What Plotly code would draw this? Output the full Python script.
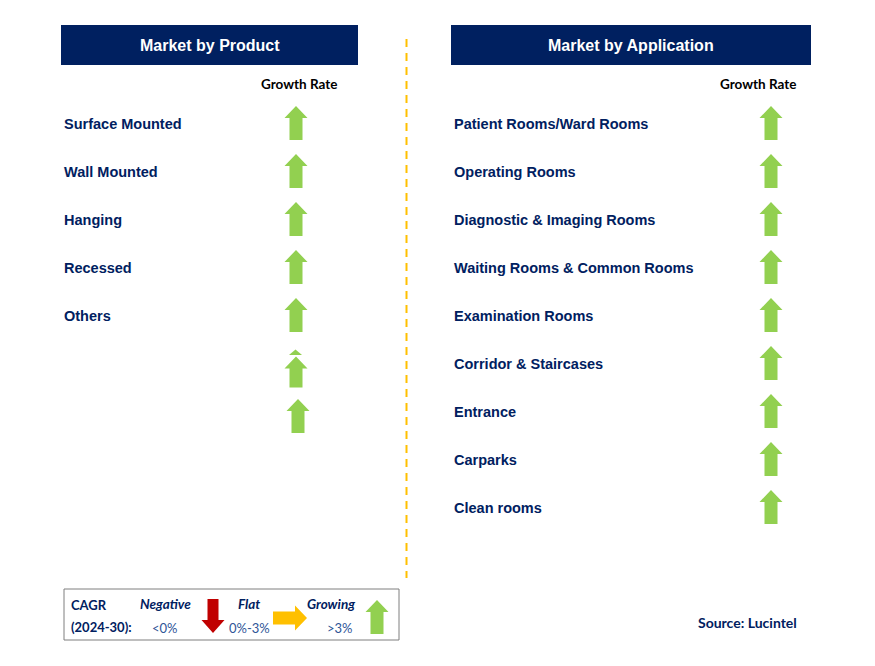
import plotly.graph_objects as go

# ---------------- data ----------------
product_title = "Market by Product"
application_title = "Market by Application"
growth_header = "Growth Rate"

products = ["Surface Mounted", "Wall Mounted", "Hanging", "Recessed", "Others"]
# growth indicators shown in the product column (two extra arrows appear without labels)
product_growth = ["Growing", "Growing", "Growing", "Growing", "Growing", "Growing", "Growing"]

applications = ["Patient Rooms/Ward Rooms", "Operating Rooms", "Diagnostic & Imaging Rooms",
                "Waiting Rooms & Common Rooms", "Examination Rooms", "Corridor & Staircases",
                "Entrance", "Carparks", "Clean rooms"]
application_growth = ["Growing", "Growing", "Growing", "Growing", "Growing",
                      "Growing", "Growing", "Growing", "Growing"]

legend_labels = ["Negative", "Flat", "Growing"]
legend_ranges = ["<0%", "0%-3%", ">3%"]
cagr_label = ["CAGR", "(2024-30):"]
source_text = "Source: Lucintel"

# ---------------- style ----------------
NAVY = "#002060"
GREEN = "#92D050"
RED = "#C00000"
YELLOW = "#FFC000"
W, H = 875, 666
OFF = 8  # page body margin
ROW0, ROWSTEP = 123, 48

fig = go.Figure()
shapes = []
ann = []


def up_arrow(cx, cy, color, w=23, h=34, shaft=13, head=12):
    t, b = cy - h / 2, cy + h / 2
    p = (f"M {cx - shaft/2} {b} L {cx - shaft/2} {t + head} L {cx - w/2} {t + head} "
         f"L {cx} {t} L {cx + w/2} {t + head} L {cx + shaft/2} {t + head} "
         f"L {cx + shaft/2} {b} Z")
    return dict(type="path", path=p, fillcolor=color, line=dict(width=0), xref="x", yref="y")


def down_arrow(cx, cy, color, w=23, h=34, shaft=11, head=13):
    t, b = cy - h / 2, cy + h / 2
    p = (f"M {cx - shaft/2} {t} L {cx - shaft/2} {b - head} L {cx - w/2} {b - head} "
         f"L {cx} {b} L {cx + w/2} {b - head} L {cx + shaft/2} {b - head} "
         f"L {cx + shaft/2} {t} Z")
    return dict(type="path", path=p, fillcolor=color, line=dict(width=0), xref="x", yref="y")


def right_arrow(cx, cy, color, w=34, h=25, shaft=13, head=12):
    l, r = cx - w / 2, cx + w / 2
    p = (f"M {l} {cy - shaft/2} L {r - head} {cy - shaft/2} L {r - head} {cy - h/2} "
         f"L {r} {cy} L {r - head} {cy + h/2} L {r - head} {cy + shaft/2} "
         f"L {l} {cy + shaft/2} Z")
    return dict(type="path", path=p, fillcolor=color, line=dict(width=0), xref="x", yref="y")


ARROW = {"Growing": ("up", GREEN), "Negative": ("down", RED), "Flat": ("right", YELLOW)}


def indicator(kind, cx, cy, h=34):
    k, c = ARROW[kind]
    if k == "up":
        return up_arrow(cx, cy, c, h=h)
    if k == "down":
        return down_arrow(cx, cy, c, h=h)
    return right_arrow(cx, cy, c)


# headers
for x0, x1, title in [(61, 358, product_title), (451, 811, application_title)]:
    shapes.append(dict(type="rect", x0=x0, x1=x1, y0=25, y1=65, fillcolor=NAVY,
                       line=dict(width=0), xref="x", yref="y"))
    ann.append(dict(x=(x0 + x1) / 2, y=45, text=f"<b>{title}</b>", showarrow=False,
                    font=dict(family="Liberation Sans, Arial", size=16, color="white"),
                    xanchor="center", yanchor="middle"))

# growth rate headers
for gx in [299, 758]:
    ann.append(dict(x=gx, y=84, text=f"<b>{growth_header}</b>", showarrow=False,
                    font=dict(family="Lato, Open Sans", size=13.5, color="black"),
                    xanchor="center", yanchor="middle"))

# divider
shapes.append(dict(type="line", x0=406.5, x1=406.5, y0=39, y1=578, xref="x", yref="y",
                   line=dict(color=YELLOW, width=2, dash="8px,6px")))

# product labels and arrows
for i, name in enumerate(products):
    ann.append(dict(x=62, y=ROW0 + 1 + i * ROWSTEP, text=f"<b>{name}</b>", showarrow=False,
                    font=dict(family="Liberation Sans, Arial", size=14.5, color=NAVY),
                    xanchor="left", yanchor="middle"))
prod_arrow_cx = [296, 296, 296, 296, 296, 296, 298]
prod_arrow_dy = [0, 0, 0, 0, 0, 9, 5]
prod_arrow_h = [34, 34, 34, 34, 34, 31, 34]
for i, g in enumerate(product_growth):
    shapes.append(indicator(g, prod_arrow_cx[i], ROW0 + i * ROWSTEP + prod_arrow_dy[i],
                            h=prod_arrow_h[i]))
# small artefact tip above sixth arrow
shapes.append(dict(type="path", path="M 289 355 L 295.5 349.5 L 302 355 Z", fillcolor=GREEN,
                   line=dict(width=0), xref="x", yref="y"))

# application labels and arrows
for i, name in enumerate(applications):
    ann.append(dict(x=452, y=ROW0 + 1 + i * ROWSTEP, text=f"<b>{name}</b>", showarrow=False,
                    font=dict(family="Liberation Sans, Arial", size=14.5, color=NAVY),
                    xanchor="left", yanchor="middle"))
for i, g in enumerate(application_growth):
    shapes.append(indicator(g, 771, ROW0 + i * ROWSTEP))

# legend box
shapes.append(dict(type="rect", x0=64, x1=399, y0=589, y1=640, xref="x", yref="y",
                   line=dict(color="#7F7F7F", width=1), fillcolor="white"))
ann.append(dict(x=69, y=605, text=f"<b>{cagr_label[0]}</b>", showarrow=False,
                font=dict(family="Lato, Open Sans", size=13, color=NAVY),
                xanchor="left", yanchor="middle"))
ann.append(dict(x=69, y=627, text=f"<b>{cagr_label[1]}</b>", showarrow=False,
                font=dict(family="Lato, Open Sans", size=13, color=NAVY),
                xanchor="left", yanchor="middle"))
leg_text_x = [165, 249, 331]
leg_range_x = [165, 249, 340]
leg_arrow = [(213, 616), (290, 618), (377, 617)]
for lbl, rng, tx, rx, (ax, ay) in zip(legend_labels, legend_ranges, leg_text_x, leg_range_x, leg_arrow):
    ann.append(dict(x=tx, y=604, text=f"<b><i>{lbl}</i></b>", showarrow=False,
                    font=dict(family="Lato, Open Sans", size=13.5, color=NAVY),
                    xanchor="center", yanchor="middle"))
    ann.append(dict(x=rx, y=628, text=rng, showarrow=False,
                    font=dict(family="Lato, Open Sans", size=13, color="#2F5597"),
                    xanchor="center", yanchor="middle"))
    shapes.append(indicator(lbl, ax, ay))

# source
ann.append(dict(x=747, y=622, text=f"<b>{source_text}</b>", showarrow=False,
                font=dict(family="Lato, Open Sans", size=14, color=NAVY),
                xanchor="center", yanchor="middle"))

fig.update_layout(
    width=W - OFF, height=H - OFF, margin=dict(l=0, r=0, t=0, b=0),
    paper_bgcolor="white", plot_bgcolor="white",
    xaxis=dict(range=[OFF, W], visible=False, fixedrange=True),
    yaxis=dict(range=[H, OFF], visible=False, fixedrange=True),
    shapes=shapes, annotations=ann, showlegend=False,
)
fig.write_html("out.html")
